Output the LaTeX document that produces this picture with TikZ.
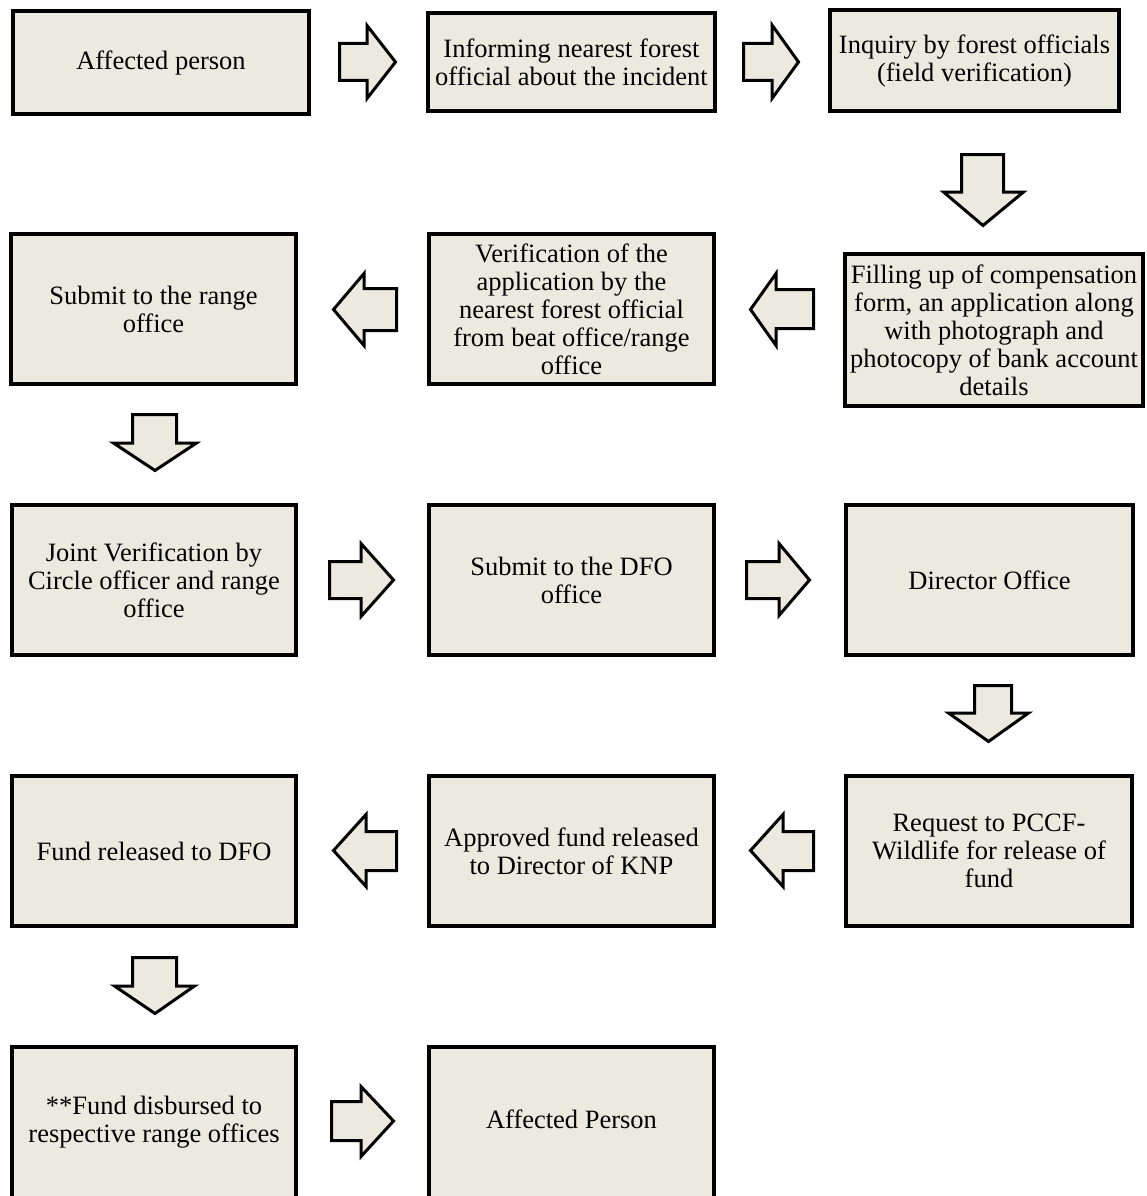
\documentclass[tikz,border=0pt]{standalone}
\usepackage{fontspec}
\setmainfont{Liberation Serif}
\definecolor{boxfill}{RGB}{236,233,223}
\tikzset{
  flowbox/.style={draw=black, line width=4pt, fill=boxfill, align=center, inner sep=2pt,
    font=\fontsize{26.5}{28}\selectfont},
  barrow/.style={draw=black, line width=3pt, fill=boxfill, line join=miter},
}
\begin{document}
\begin{tikzpicture}[x=1pt,y=-1pt]
\useasboundingbox (0,0) rectangle (1146,1196);
% boxes
\node[flowbox, minimum width=296, minimum height=103] (A) at (161,62.5) {Affected person};
\node[flowbox, minimum width=287, minimum height=98] (B) at (571.5,62) {Informing nearest forest\\official about the incident};
\node[flowbox, minimum width=289, minimum height=101] (C) at (974.5,60.5) {Inquiry by forest officials\\(field verification)};
\node[flowbox, minimum width=285, minimum height=150] (D) at (153.5,309) {Submit to the range\\office};
\node[flowbox, minimum width=285, minimum height=150] (E) at (571.5,309) {Verification of the\\application by the\\nearest forest official\\from beat office/range\\office};
\node[flowbox, minimum width=298, minimum height=152] (F) at (994,330) {Filling up of compensation\\form, an application along\\with photograph and\\photocopy of bank account\\details};
\node[flowbox, minimum width=284, minimum height=150] (G) at (154,580) {Joint Verification by\\Circle officer and range\\office};
\node[flowbox, minimum width=285, minimum height=150] (H) at (571.5,580) {Submit to the DFO\\office};
\node[flowbox, minimum width=287, minimum height=150] (I) at (989.5,580) {Director Office};
\node[flowbox, minimum width=284, minimum height=150] (J) at (154,851) {Fund released to DFO};
\node[flowbox, minimum width=285, minimum height=150] (K) at (571.5,851) {Approved fund released\\to Director of KNP};
\node[flowbox, minimum width=286, minimum height=150] (L) at (989,851) {Request to PCCF-\\Wildlife for release of\\fund};
\node[flowbox, minimum width=284, minimum height=166] (M) at (154,1130) {**Fund disbursed to\\respective range offices\rule[-22pt]{0pt}{0pt}};
\node[flowbox, minimum width=285, minimum height=166] (N) at (571.5,1130) {Affected Person\rule[-22pt]{0pt}{0pt}};
% block arrows
% A -> B
\draw[barrow] (339.5,43.5) -- (367,43.5) -- (367,25.5) -- (395.5,62) -- (367,98.5) -- (367,80.5) -- (339.5,80.5) -- cycle;
% B -> C
\draw[barrow] (743.5,43.5) -- (772,43.5) -- (772,25) -- (798.5,62) -- (772,98.5) -- (772,80.5) -- (743.5,80.5) -- cycle;
% C -> F
\draw[barrow] (961.5,154.5) -- (1003.5,154.5) -- (1003.5,192) -- (1023.5,192) -- (983,225.5) -- (943.5,192) -- (961.5,192) -- cycle;
% F -> E
\draw[barrow] (813.5,289.5) -- (776,289.5) -- (776,273.5) -- (750.5,309.5) -- (776,345.5) -- (776,328.5) -- (813.5,328.5) -- cycle;
% E -> D
\draw[barrow] (396.5,288.5) -- (364,288.5) -- (364,273.5) -- (333.5,309.5) -- (364,345.5) -- (364,330.5) -- (396.5,330.5) -- cycle;
% D -> G
\draw[barrow] (132.5,414.5) -- (176.5,414.5) -- (176.5,443) -- (196.5,443) -- (155,470.5) -- (113.5,443) -- (132.5,443) -- cycle;
% G -> H
\draw[barrow] (329.5,561.5) -- (361,561.5) -- (361,543.5) -- (393.5,580) -- (361,616.5) -- (361,598.5) -- (329.5,598.5) -- cycle;
% H -> I
\draw[barrow] (746.5,561.5) -- (779,561.5) -- (779,543.5) -- (809.5,580) -- (779,615.5) -- (779,598.5) -- (746.5,598.5) -- cycle;
% I -> L
\draw[barrow] (974.5,685.5) -- (1011.5,685.5) -- (1011.5,713) -- (1028.5,713) -- (988.5,741.5) -- (948.5,713) -- (974.5,713) -- cycle;
% L -> K
\draw[barrow] (813.5,831.5) -- (783,831.5) -- (783,814.5) -- (750.5,850.5) -- (783,886.5) -- (783,870.5) -- (813.5,870.5) -- cycle;
% K -> J
\draw[barrow] (396.5,831.5) -- (366,831.5) -- (366,814.5) -- (333.5,850.5) -- (366,886.5) -- (366,870.5) -- (396.5,870.5) -- cycle;
% J -> M
\draw[barrow] (132.5,957.5) -- (176.5,957.5) -- (176.5,986) -- (194.5,986) -- (155,1013.5) -- (114.5,986) -- (132.5,986) -- cycle;
% M -> N
\draw[barrow] (331.5,1101.5) -- (361,1101.5) -- (361,1086.5) -- (393.5,1121) -- (361,1156.5) -- (361,1140.5) -- (331.5,1140.5) -- cycle;
\end{tikzpicture}
\end{document}
